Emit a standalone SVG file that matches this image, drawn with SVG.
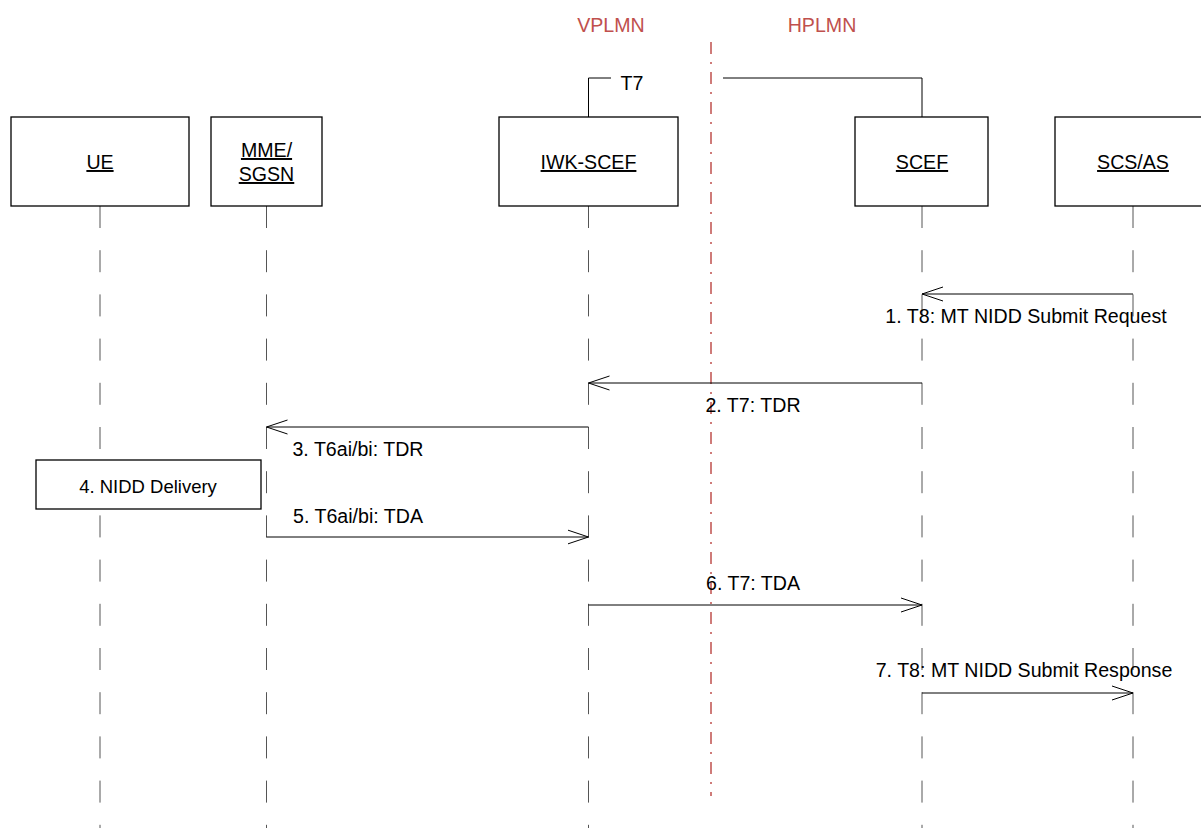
<svg xmlns="http://www.w3.org/2000/svg" width="1201" height="828" viewBox="0 0 1201 828">
<defs>
<style>
.box{fill:#fff;stroke:#000;stroke-width:1.3}
.lbl{font-family:"Liberation Sans",Arial,sans-serif;font-size:19.6px;fill:#000;text-anchor:middle}
.u{text-decoration:underline}
.life{stroke:#555;stroke-width:1;stroke-dasharray:22 22.2;fill:none}
.msg{stroke:#000;stroke-width:1;fill:none}
.red{font-family:"Liberation Sans",Arial,sans-serif;font-size:19.6px;fill:#c0504d;text-anchor:middle}
</style>
<marker id="arr" viewBox="0 0 22 16" refX="21" refY="8" markerWidth="22" markerHeight="16" markerUnits="userSpaceOnUse" orient="auto">
<path d="M0,1 L21,8 L0,15" fill="none" stroke="#000" stroke-width="1"/>
</marker>
</defs>
<rect width="1201" height="828" fill="#fff"/>

<g id="domains">
<text class="red" x="611" y="32">VPLMN</text>
<text class="red" x="822" y="32">HPLMN</text>
<line x1="711" y1="42" x2="711" y2="796" stroke="#c0504d" stroke-width="1.5" stroke-dasharray="12 8 2 8"/>
</g>

<g id="connectors">
<line class="life" x1="100" y1="206" x2="100" y2="828"/>
<line class="life" x1="266.5" y1="206" x2="266.5" y2="828"/>
<line class="life" x1="588.5" y1="206" x2="588.5" y2="828"/>
<line class="life" x1="922" y1="206" x2="922" y2="828"/>
<line class="life" x1="1133" y1="206" x2="1133" y2="828"/>
<path class="msg" d="M588.5,117 V78 H611" stroke-width="1.3"/>
<path class="msg" d="M723,78 H922 V117" stroke-width="1.3"/>
<text class="lbl" x="632" y="90">T7</text>
<line class="msg" x1="1133" y1="294" x2="922" y2="294" marker-end="url(#arr)"/>
<text class="lbl" x="1026" y="323">1. T8: MT NIDD Submit Request</text>
<line class="msg" x1="922" y1="383" x2="588.5" y2="383" marker-end="url(#arr)"/>
<text class="lbl" x="753" y="412">2. T7: TDR</text>
<line class="msg" x1="588.5" y1="427" x2="266.5" y2="427" marker-end="url(#arr)"/>
<text class="lbl" x="358" y="456">3. T6ai/bi: TDR</text>
<line class="msg" x1="266.5" y1="537" x2="588.5" y2="537" marker-end="url(#arr)"/>
<text class="lbl" x="358" y="523">5. T6ai/bi: TDA</text>
<line class="msg" x1="588.5" y1="605" x2="922" y2="605" marker-end="url(#arr)"/>
<text class="lbl" x="753" y="590">6. T7: TDA</text>
<line class="msg" x1="922" y1="693" x2="1133" y2="693" marker-end="url(#arr)"/>
<text class="lbl" x="1024" y="677">7. T8: MT NIDD Submit Response</text>
</g>

<g id="ue">
<rect class="box" x="11" y="117" width="178" height="89"/>
<text class="lbl u" x="100" y="169">UE</text>
</g>
<g id="mme">
<rect class="box" x="211" y="117" width="111" height="89"/>
<text class="lbl u" x="266.5" y="157">MME/</text>
<text class="lbl u" x="266.5" y="181">SGSN</text>
</g>
<g id="iwk-scef">
<rect class="box" x="499" y="117" width="179" height="89"/>
<text class="lbl u" x="588.5" y="169">IWK-SCEF</text>
</g>
<g id="scef">
<rect class="box" x="855" y="117" width="133" height="89"/>
<text class="lbl u" x="922" y="169">SCEF</text>
</g>
<g id="scs-as">
<rect class="box" x="1055" y="117" width="158" height="89"/>
<text class="lbl u" x="1133" y="169">SCS/AS</text>
</g>
<g id="nidd-delivery">
<rect class="box" x="36" y="460" width="225" height="49"/>
<text class="lbl" x="148" y="493" style="font-size:18.5px">4. NIDD Delivery</text>
</g>
</svg>
